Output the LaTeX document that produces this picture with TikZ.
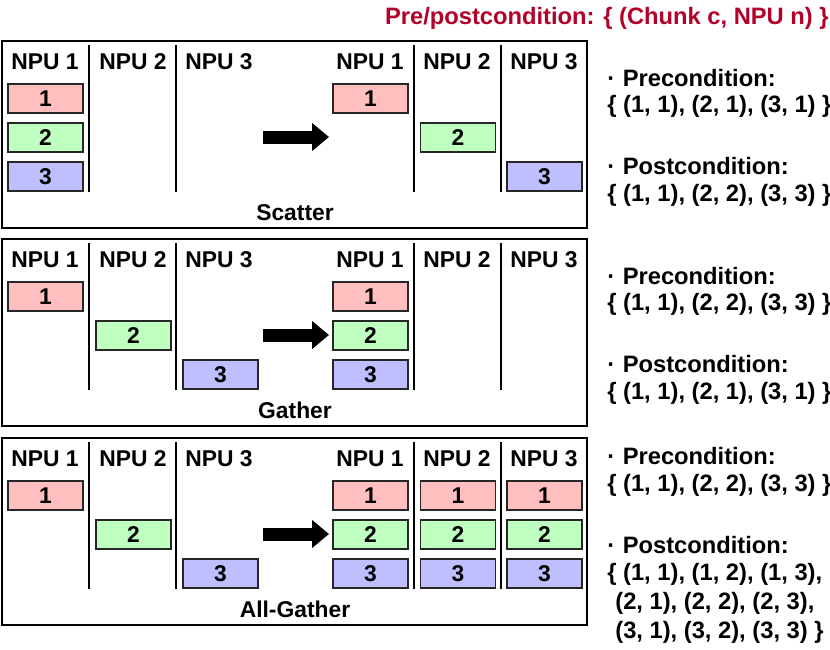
\documentclass[tikz,border=0pt]{standalone}
\usepackage{fontspec}
\setmainfont{Liberation Sans}
\usetikzlibrary{arrows.meta}

\definecolor{chk1}{RGB}{255,191,191}
\definecolor{chk2}{RGB}{191,255,191}
\definecolor{chk3}{RGB}{191,191,255}
\definecolor{titlered}{RGB}{178,0,40}

\tikzset{
	chunk/.style={draw=black!85, line width=0.6pt, fill=chk#1, minimum width=1.5cm, minimum height=0.58cm, inner sep=0pt, font=\fontsize{13}{15}\selectfont\bfseries},
	npuhead/.style={anchor=base, inner sep=0pt, font=\fontsize{13}{15}\selectfont\bfseries},
	frame/.style={line width=1pt},
	divider/.style={line width=1.1pt},
	bigarrow/.style={line width=7.4pt, -{Triangle[width=15.3pt,length=9.6pt]}},
	condtext/.style={anchor=base west, inner sep=0pt, font=\fontsize{13.5}{16}\selectfont\bfseries}
}

\begin{document}
\begin{tikzpicture}[x=0.02cm, y=-0.02cm]
	\useasboundingbox (0,0) rectangle (830,649);
	
	\node[condtext, anchor=base east, text=titlered] (legend) at (829,24) {Pre/postcondition: \{ (Chunk c, NPU n) \}};
	
	% three panels
	\foreach \o/\name in {0/Scatter, 198/Gather, 397/All-Gather}
	{
		\draw[frame] (2, 41 + \o) rectangle (587, 228 + \o);
		\foreach \x in {89, 176, 414, 501}
			\draw[divider] (\x, 45 + \o) -- (\x, 192 + \o);
		\foreach \x/\n in {45/1, 133/2, 219/3, 370/1, 457/2, 544/3}
			\node[npuhead] (head-\o-\x) at (\x, 69 + \o) {NPU \n};
		\coordinate (arL-\o) at (263, 137 + \o);
		\coordinate (arR-\o) at (329, 137 + \o);
		\draw[bigarrow] (arL-\o) -- (arR-\o);
		\node[npuhead] (op-\o) at (295, 220 + \o) {\name};
	}
	
	% Scatter
	\foreach \r in {1, 2, 3}
		\node[chunk=\r] (s-in-\r) at (45.5, {98.5 + 39*(\r-1)}) {\r};
	\foreach \x/\r in {370.5/1, 458/2, 544.5/3}
		\node[chunk=\r] (s-out-\r) at (\x, {98.5 + 39*(\r-1)}) {\r};
	
	% Gather
	\foreach \x/\r in {45.5/1, 133.5/2, 220.5/3}
		\node[chunk=\r] (g-in-\r) at (\x, {296.5 + 39*(\r-1)}) {\r};
	\foreach \r in {1, 2, 3}
		\node[chunk=\r] (g-out-\r) at (370.5, {296.5 + 39*(\r-1)}) {\r};
	
	% All-Gather
	\foreach \x/\r in {45.5/1, 133.5/2, 220.5/3}
		\node[chunk=\r] (ag-in-\r) at (\x, {495.5 + 39*(\r-1)}) {\r};
	\foreach \x/\c in {370.5/1, 458/2, 544.5/3}
		\foreach \r in {1, 2, 3}
			\node[chunk=\r] (ag-out-\c-\r) at (\x, {495.5 + 39*(\r-1)}) {\r};
	
	% conditions
	\node[condtext] (s-pre) at (607, 86) {·\hspace{4.3pt}Precondition:};
	\node[condtext] (s-pre-set) at (607, 112) {\{ (1, 1), (2, 1), (3, 1) \}};
	\node[condtext] (s-post) at (607, 174) {·\hspace{4.3pt}Postcondition:};
	\node[condtext] (s-post-set) at (607, 201) {\{ (1, 1), (2, 2), (3, 3) \}};
	
	\node[condtext] (g-pre) at (607, 284) {·\hspace{4.3pt}Precondition:};
	\node[condtext] (g-pre-set) at (607, 310) {\{ (1, 1), (2, 2), (3, 3) \}};
	\node[condtext] (g-post) at (607, 372) {·\hspace{4.3pt}Postcondition:};
	\node[condtext] (g-post-set) at (607, 399) {\{ (1, 1), (2, 1), (3, 1) \}};
	
	\node[condtext] (ag-pre) at (607, 464) {·\hspace{4.3pt}Precondition:};
	\node[condtext] (ag-pre-set) at (607, 491) {\{ (1, 1), (2, 2), (3, 3) \}};
	\node[condtext] (ag-post) at (607, 553) {·\hspace{4.3pt}Postcondition:};
	\node[condtext] (ag-post-set1) at (607, 580) {\{ (1, 1), (1, 2), (1, 3),};
	\node[condtext] (ag-post-set2) at (615, 609) {(2, 1), (2, 2), (2, 3),};
	\node[condtext] (ag-post-set3) at (615, 638) {(3, 1), (3, 2), (3, 3) \}};
\end{tikzpicture}
\end{document}
